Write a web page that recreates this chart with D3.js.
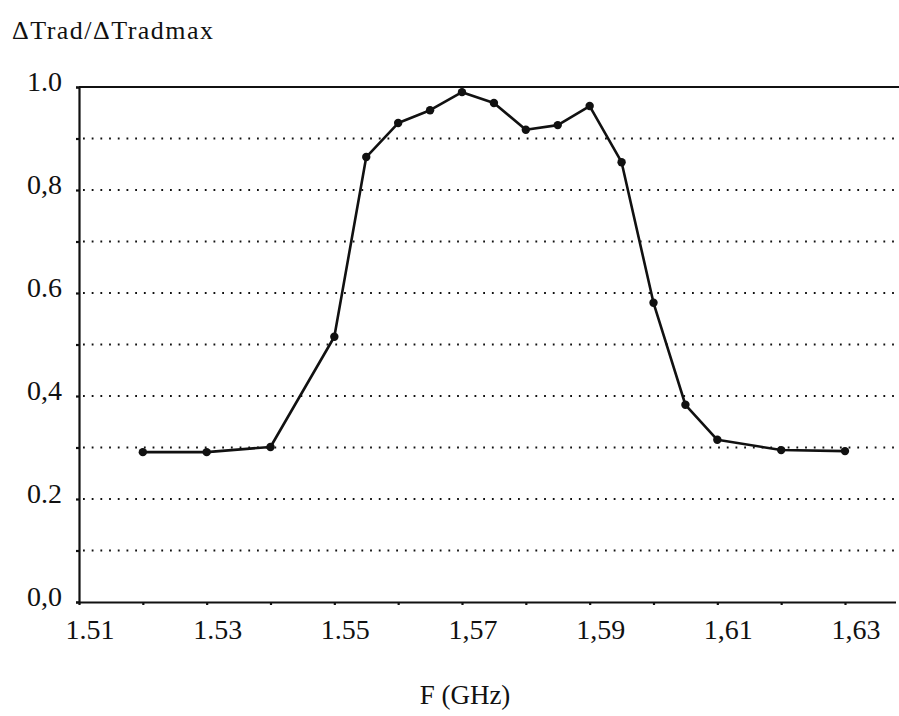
<!DOCTYPE html>
<html>
<head>
<meta charset="utf-8">
<script src="https://cdn.jsdelivr.net/npm/d3@7"></script>
<style>
  html, body { margin: 0; padding: 0; background: #fff; }
  svg { display: block; }
  text { font-family: "Times New Roman", Times, "Liberation Serif", serif; fill: #111; }
</style>
</head>
<body>
<svg id="chart" width="899" height="716"></svg>
<script>
// Frequency (GHz) of each measurement
const freq = [1.52, 1.53, 1.54, 1.55, 1.555, 1.56, 1.565, 1.57, 1.575, 1.58,
              1.585, 1.59, 1.595, 1.60, 1.605, 1.61, 1.62, 1.63];
// Normalised radiometric temperature change ΔTrad/ΔTradmax
const ratio = [0.291, 0.291, 0.301, 0.515, 0.864, 0.930, 0.955, 0.990, 0.969, 0.917,
               0.926, 0.963, 0.854, 0.581, 0.383, 0.315, 0.295, 0.293];

// Axis tick values and their printed labels
const xTickValues = [1.51, 1.53, 1.55, 1.57, 1.59, 1.61, 1.63];
const xTickLabels = ["1.51", "1.53", "1.55", "1,57", "1,59", "1,61", "1,63"];
const yTickValues = [0.0, 0.2, 0.4, 0.6, 0.8, 1.0];
const yTickLabels = ["0,0", "0.2", "0,4", "0.6", "0,8", "1.0"];
const yGridValues = [0.1, 0.2, 0.3, 0.4, 0.5, 0.6, 0.7, 0.8, 0.9];
const xMinorValues = d3.range(1.51, 1.6351, 0.01);

const svg = d3.select("#chart");
const plotLeft = 79, plotTop = 87, plotBottom = 602, frameRight = 896;

const x = d3.scaleLinear().domain([1.51, 1.63]).range([plotLeft, 845]);
const y = d3.scaleLinear().domain([0, 1]).range([plotBottom, plotTop]);

// Dotted horizontal grid
svg.append("g").selectAll("line").data(yGridValues).join("line")
  .attr("x1", plotLeft + 4).attr("x2", frameRight)
  .attr("y1", d => y(d)).attr("y2", d => y(d))
  .attr("stroke", "#111").attr("stroke-width", 2)
  .attr("stroke-dasharray", "1.8,6.9");

// Frame: top, left and bottom lines
svg.append("line").attr("x1", plotLeft).attr("x2", 899).attr("y1", plotTop).attr("y2", plotTop)
  .attr("stroke", "#111").attr("stroke-width", 2.2);

const yAxis = d3.axisLeft(y).tickValues(d3.range(0, 1.001, 0.1)).tickSize(3).tickFormat("");
svg.append("g").attr("transform", `translate(${plotLeft},0)`).call(yAxis)
  .call(g => g.selectAll("path, line").attr("stroke", "#111").attr("stroke-width", 2.2));

const xAxis = d3.axisBottom(x).tickValues(xMinorValues).tickSize(3).tickFormat("");
svg.append("g").attr("transform", `translate(0,${plotBottom})`).call(xAxis)
  .call(g => g.select(".domain").attr("d", `M${plotLeft},0.5H${frameRight}`))
  .call(g => g.selectAll("path, line").attr("stroke", "#111").attr("stroke-width", 2.2));

// Tick labels
svg.append("g").selectAll("text").data(yTickValues).join("text")
  .attr("x", 62).attr("y", d => y(d) + 4)
  .attr("text-anchor", "end")
  .attr("font-size", 28)
  .text((d, i) => yTickLabels[i]);

svg.append("g").selectAll("text").data(xTickValues).join("text")
  .attr("x", d => x(d) + 11).attr("y", 639)
  .attr("text-anchor", "middle")
  .attr("font-size", 28)
  .text((d, i) => xTickLabels[i]);

// Axis titles
svg.append("text").attr("x", 12).attr("y", 39)
  .attr("font-size", 26)
  .attr("textLength", 201).attr("lengthAdjust", "spacing")
  .text("ΔTrad/ΔTradmax");

svg.append("text").attr("x", 465).attr("y", 704)
  .attr("text-anchor", "middle")
  .attr("font-size", 27)
  .text("F (GHz)");

// Measured curve
const pts = freq.map((f, i) => [f, ratio[i]]);
svg.append("path").datum(pts)
  .attr("fill", "none").attr("stroke", "#111").attr("stroke-width", 2.6)
  .attr("stroke-linejoin", "round")
  .attr("d", d3.line().x(d => x(d[0])).y(d => y(d[1])));

svg.append("g").selectAll("circle").data(pts).join("circle")
  .attr("cx", d => x(d[0])).attr("cy", d => y(d[1])).attr("r", 4.2)
  .attr("fill", "#111");
</script>
</body>
</html>
